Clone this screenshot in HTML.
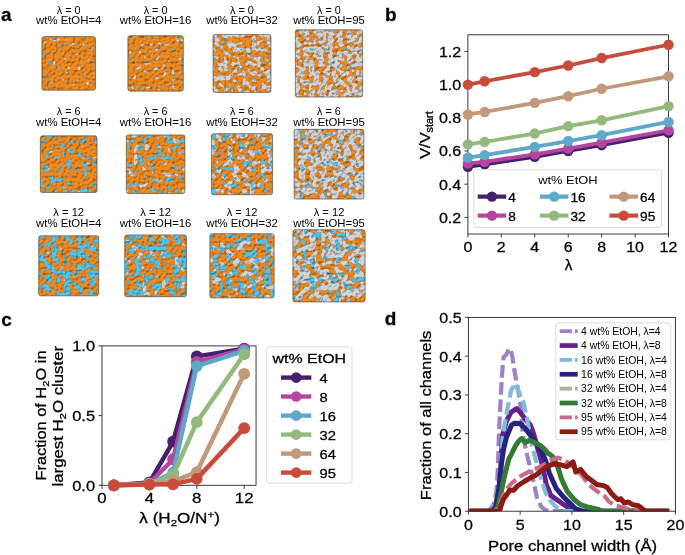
<!DOCTYPE html><html><head><meta charset="utf-8"><style>
html,body{margin:0;padding:0;background:#fff;width:685px;height:555px;overflow:hidden}
svg{display:block;font-family:"Liberation Sans",sans-serif;will-change:transform} text{stroke:#000;stroke-width:0.28px;paint-order:stroke} text.t{stroke:none}
</style></head><body>
<svg width="685" height="555" viewBox="0 0 685 555">
<rect width="685" height="555" fill="#fff"/>
<rect x="467.90" y="34.80" width="200.64" height="199.20" fill="none" stroke="#262626" stroke-width="0.9"/>
<line x1="464.40" y1="217.40" x2="467.90" y2="217.40" stroke="#262626" stroke-width="0.9"/>
<text x="461.20" y="222.85" font-size="15.2" text-anchor="end" textLength="22.30" lengthAdjust="spacingAndGlyphs">0.2</text>
<line x1="464.40" y1="184.20" x2="467.90" y2="184.20" stroke="#262626" stroke-width="0.9"/>
<text x="461.20" y="189.65" font-size="15.2" text-anchor="end" textLength="22.30" lengthAdjust="spacingAndGlyphs">0.4</text>
<line x1="464.40" y1="151.00" x2="467.90" y2="151.00" stroke="#262626" stroke-width="0.9"/>
<text x="461.20" y="156.45" font-size="15.2" text-anchor="end" textLength="22.30" lengthAdjust="spacingAndGlyphs">0.6</text>
<line x1="464.40" y1="117.80" x2="467.90" y2="117.80" stroke="#262626" stroke-width="0.9"/>
<text x="461.20" y="123.25" font-size="15.2" text-anchor="end" textLength="22.30" lengthAdjust="spacingAndGlyphs">0.8</text>
<line x1="464.40" y1="84.60" x2="467.90" y2="84.60" stroke="#262626" stroke-width="0.9"/>
<text x="461.20" y="90.05" font-size="15.2" text-anchor="end" textLength="22.30" lengthAdjust="spacingAndGlyphs">1.0</text>
<line x1="464.40" y1="51.40" x2="467.90" y2="51.40" stroke="#262626" stroke-width="0.9"/>
<text x="461.20" y="56.85" font-size="15.2" text-anchor="end" textLength="22.30" lengthAdjust="spacingAndGlyphs">1.2</text>
<line x1="467.90" y1="234.00" x2="467.90" y2="237.50" stroke="#262626" stroke-width="0.9"/>
<text x="467.90" y="251.90" font-size="15.2" text-anchor="middle" textLength="8.90" lengthAdjust="spacingAndGlyphs">0</text>
<line x1="501.34" y1="234.00" x2="501.34" y2="237.50" stroke="#262626" stroke-width="0.9"/>
<text x="501.34" y="251.90" font-size="15.2" text-anchor="middle" textLength="8.90" lengthAdjust="spacingAndGlyphs">2</text>
<line x1="534.78" y1="234.00" x2="534.78" y2="237.50" stroke="#262626" stroke-width="0.9"/>
<text x="534.78" y="251.90" font-size="15.2" text-anchor="middle" textLength="8.90" lengthAdjust="spacingAndGlyphs">4</text>
<line x1="568.22" y1="234.00" x2="568.22" y2="237.50" stroke="#262626" stroke-width="0.9"/>
<text x="568.22" y="251.90" font-size="15.2" text-anchor="middle" textLength="8.90" lengthAdjust="spacingAndGlyphs">6</text>
<line x1="601.66" y1="234.00" x2="601.66" y2="237.50" stroke="#262626" stroke-width="0.9"/>
<text x="601.66" y="251.90" font-size="15.2" text-anchor="middle" textLength="8.90" lengthAdjust="spacingAndGlyphs">8</text>
<line x1="635.10" y1="234.00" x2="635.10" y2="237.50" stroke="#262626" stroke-width="0.9"/>
<text x="635.10" y="251.90" font-size="15.2" text-anchor="middle" textLength="17.80" lengthAdjust="spacingAndGlyphs">10</text>
<line x1="668.54" y1="234.00" x2="668.54" y2="237.50" stroke="#262626" stroke-width="0.9"/>
<text x="668.54" y="251.90" font-size="15.2" text-anchor="middle" textLength="17.80" lengthAdjust="spacingAndGlyphs">12</text>
<polyline points="467.90,166.77 484.62,164.28 534.78,156.81 568.22,151.00 601.66,145.19 668.54,132.74" fill="none" stroke="#45206f" stroke-width="3.8" stroke-linejoin="round" stroke-linecap="butt"/>
<circle cx="467.90" cy="166.77" r="5.2" fill="#45206f"/>
<circle cx="484.62" cy="164.28" r="5.2" fill="#45206f"/>
<circle cx="534.78" cy="156.81" r="5.2" fill="#45206f"/>
<circle cx="568.22" cy="151.00" r="5.2" fill="#45206f"/>
<circle cx="601.66" cy="145.19" r="5.2" fill="#45206f"/>
<circle cx="668.54" cy="132.74" r="5.2" fill="#45206f"/>
<polyline points="467.90,163.45 484.62,161.79 534.78,154.32 568.22,148.51 601.66,142.70 668.54,130.25" fill="none" stroke="#b6459f" stroke-width="3.8" stroke-linejoin="round" stroke-linecap="butt"/>
<circle cx="467.90" cy="163.45" r="5.2" fill="#b6459f"/>
<circle cx="484.62" cy="161.79" r="5.2" fill="#b6459f"/>
<circle cx="534.78" cy="154.32" r="5.2" fill="#b6459f"/>
<circle cx="568.22" cy="148.51" r="5.2" fill="#b6459f"/>
<circle cx="601.66" cy="142.70" r="5.2" fill="#b6459f"/>
<circle cx="668.54" cy="130.25" r="5.2" fill="#b6459f"/>
<polyline points="467.90,157.64 484.62,155.15 534.78,146.85 568.22,141.04 601.66,135.23 668.54,121.95" fill="none" stroke="#5ea8c9" stroke-width="3.8" stroke-linejoin="round" stroke-linecap="butt"/>
<circle cx="467.90" cy="157.64" r="5.2" fill="#5ea8c9"/>
<circle cx="484.62" cy="155.15" r="5.2" fill="#5ea8c9"/>
<circle cx="534.78" cy="146.85" r="5.2" fill="#5ea8c9"/>
<circle cx="568.22" cy="141.04" r="5.2" fill="#5ea8c9"/>
<circle cx="601.66" cy="135.23" r="5.2" fill="#5ea8c9"/>
<circle cx="668.54" cy="121.95" r="5.2" fill="#5ea8c9"/>
<polyline points="467.90,144.36 484.62,141.87 534.78,133.57 568.22,126.10 601.66,120.29 668.54,106.18" fill="none" stroke="#94b97c" stroke-width="3.8" stroke-linejoin="round" stroke-linecap="butt"/>
<circle cx="467.90" cy="144.36" r="5.2" fill="#94b97c"/>
<circle cx="484.62" cy="141.87" r="5.2" fill="#94b97c"/>
<circle cx="534.78" cy="133.57" r="5.2" fill="#94b97c"/>
<circle cx="568.22" cy="126.10" r="5.2" fill="#94b97c"/>
<circle cx="601.66" cy="120.29" r="5.2" fill="#94b97c"/>
<circle cx="668.54" cy="106.18" r="5.2" fill="#94b97c"/>
<polyline points="467.90,114.48 484.62,111.99 534.78,102.86 568.22,96.22 601.66,88.75 668.54,76.30" fill="none" stroke="#c1987a" stroke-width="3.8" stroke-linejoin="round" stroke-linecap="butt"/>
<circle cx="467.90" cy="114.48" r="5.2" fill="#c1987a"/>
<circle cx="484.62" cy="111.99" r="5.2" fill="#c1987a"/>
<circle cx="534.78" cy="102.86" r="5.2" fill="#c1987a"/>
<circle cx="568.22" cy="96.22" r="5.2" fill="#c1987a"/>
<circle cx="601.66" cy="88.75" r="5.2" fill="#c1987a"/>
<circle cx="668.54" cy="76.30" r="5.2" fill="#c1987a"/>
<polyline points="467.90,84.60 484.62,81.28 534.78,72.15 568.22,65.51 601.66,58.04 668.54,44.76" fill="none" stroke="#c84b3c" stroke-width="3.8" stroke-linejoin="round" stroke-linecap="butt"/>
<circle cx="467.90" cy="84.60" r="5.2" fill="#c84b3c"/>
<circle cx="484.62" cy="81.28" r="5.2" fill="#c84b3c"/>
<circle cx="534.78" cy="72.15" r="5.2" fill="#c84b3c"/>
<circle cx="568.22" cy="65.51" r="5.2" fill="#c84b3c"/>
<circle cx="601.66" cy="58.04" r="5.2" fill="#c84b3c"/>
<circle cx="668.54" cy="44.76" r="5.2" fill="#c84b3c"/>
<rect x="473.9" y="169.6" width="187.7" height="58" rx="2.5" fill="#fff" fill-opacity="0.8" stroke="#d9d9d9" stroke-width="0.9"/>
<text class="t" x="567.90" y="183.80" font-size="10.6" text-anchor="middle" textLength="59.50" lengthAdjust="spacingAndGlyphs">wt% EtOH</text>
<line x1="477.70" y1="196.60" x2="506.20" y2="196.60" stroke="#45206f" stroke-width="4.2"/>
<circle cx="491.95" cy="196.60" r="5.2" fill="#45206f"/>
<text x="508.30" y="201.60" font-size="12.4" textLength="7.60" lengthAdjust="spacingAndGlyphs">4</text>
<line x1="539.90" y1="196.60" x2="568.40" y2="196.60" stroke="#5ea8c9" stroke-width="4.2"/>
<circle cx="554.15" cy="196.60" r="5.2" fill="#5ea8c9"/>
<text x="570.50" y="201.60" font-size="12.4" textLength="15.20" lengthAdjust="spacingAndGlyphs">16</text>
<line x1="609.50" y1="196.60" x2="638.00" y2="196.60" stroke="#c1987a" stroke-width="4.2"/>
<circle cx="623.75" cy="196.60" r="5.2" fill="#c1987a"/>
<text x="640.10" y="201.60" font-size="12.4" textLength="15.20" lengthAdjust="spacingAndGlyphs">64</text>
<line x1="477.70" y1="215.60" x2="506.20" y2="215.60" stroke="#b6459f" stroke-width="4.2"/>
<circle cx="491.95" cy="215.60" r="5.2" fill="#b6459f"/>
<text x="508.30" y="220.60" font-size="12.4" textLength="7.60" lengthAdjust="spacingAndGlyphs">8</text>
<line x1="539.90" y1="215.60" x2="568.40" y2="215.60" stroke="#94b97c" stroke-width="4.2"/>
<circle cx="554.15" cy="215.60" r="5.2" fill="#94b97c"/>
<text x="570.50" y="220.60" font-size="12.4" textLength="15.20" lengthAdjust="spacingAndGlyphs">32</text>
<line x1="609.50" y1="215.60" x2="638.00" y2="215.60" stroke="#c84b3c" stroke-width="4.2"/>
<circle cx="623.75" cy="215.60" r="5.2" fill="#c84b3c"/>
<text x="640.10" y="220.60" font-size="12.4" textLength="15.20" lengthAdjust="spacingAndGlyphs">95</text>
<text x="568.50" y="269.70" font-size="15.2" text-anchor="middle">λ</text>
<text transform="translate(429.6,135.1) rotate(-90)" font-size="15.2" text-anchor="middle" textLength="47.5" lengthAdjust="spacingAndGlyphs">V/V<tspan font-size="10" dy="3.2">start</tspan></text>
<text x="385.00" y="20.70" font-size="19" font-weight="bold">b</text>
<defs><filter id="q00" x="0" y="0" width="1" height="1" color-interpolation-filters="sRGB"><feFlood flood-color="#ee8a22" result="base"/><feTurbulence type="fractalNoise" baseFrequency="0.21" numOctaves="1" seed="11" result="n1"/><feColorMatrix in="n1" type="matrix" result="ge" values="0 0 0 0 0.55 0 0 0 0 0.56 0 0 0 0 0.58 25 0 0 0 -16.667"/><feColorMatrix in="n1" type="matrix" result="g" values="0 0 0 0 0.82 0 0 0 0 0.83 0 0 0 0 0.85 25 0 0 0 -17.042"/><feTurbulence type="fractalNoise" baseFrequency="0.21" numOctaves="1" seed="61" result="n2"/><feColorMatrix in="n2" type="matrix" result="be" values="0 0 0 0 0.25 0 0 0 0 0.55 0 0 0 0 0.68 25 0 0 0 -17.565"/><feColorMatrix in="n2" type="matrix" result="b" values="0 0 0 0 0.33 0 0 0 0 0.77 0 0 0 0 0.91 25 0 0 0 -17.940"/><feMerge result="col"><feMergeNode in="base"/><feMergeNode in="ge"/><feMergeNode in="g"/><feMergeNode in="be"/><feMergeNode in="b"/></feMerge><feTurbulence type="fractalNoise" baseFrequency="0.35" numOctaves="1" seed="16" result="n3"/><feColorMatrix in="n3" type="matrix" result="h" values="0 0 0 0 0 0 0 0 0 0 0 0 0 0 0 1 0 0 0 0"/><feDiffuseLighting in="h" surfaceScale="1.5" diffuseConstant="1.15" lighting-color="#fff" result="L"><feDistantLight azimuth="235" elevation="60"/></feDiffuseLighting><feBlend in="col" in2="L" mode="multiply"/></filter><clipPath id="k00"><rect x="41.90" y="36.60" width="53.59" height="53.59" rx="2.2"/></clipPath><filter id="q01" x="0" y="0" width="1" height="1" color-interpolation-filters="sRGB"><feFlood flood-color="#ee8a22" result="base"/><feTurbulence type="fractalNoise" baseFrequency="0.21" numOctaves="1" seed="18" result="n1"/><feColorMatrix in="n1" type="matrix" result="ge" values="0 0 0 0 0.55 0 0 0 0 0.56 0 0 0 0 0.58 25 0 0 0 -15.760"/><feColorMatrix in="n1" type="matrix" result="g" values="0 0 0 0 0.82 0 0 0 0 0.83 0 0 0 0 0.85 25 0 0 0 -16.135"/><feTurbulence type="fractalNoise" baseFrequency="0.21" numOctaves="1" seed="68" result="n2"/><feColorMatrix in="n2" type="matrix" result="be" values="0 0 0 0 0.25 0 0 0 0 0.55 0 0 0 0 0.68 25 0 0 0 -17.272"/><feColorMatrix in="n2" type="matrix" result="b" values="0 0 0 0 0.33 0 0 0 0 0.77 0 0 0 0 0.91 25 0 0 0 -17.647"/><feMerge result="col"><feMergeNode in="base"/><feMergeNode in="ge"/><feMergeNode in="g"/><feMergeNode in="be"/><feMergeNode in="b"/></feMerge><feTurbulence type="fractalNoise" baseFrequency="0.35" numOctaves="1" seed="23" result="n3"/><feColorMatrix in="n3" type="matrix" result="h" values="0 0 0 0 0 0 0 0 0 0 0 0 0 0 0 1 0 0 0 0"/><feDiffuseLighting in="h" surfaceScale="1.5" diffuseConstant="1.15" lighting-color="#fff" result="L"><feDistantLight azimuth="235" elevation="60"/></feDiffuseLighting><feBlend in="col" in2="L" mode="multiply"/></filter><clipPath id="k01"><rect x="127.86" y="35.66" width="55.47" height="55.47" rx="2.2"/></clipPath><filter id="q02" x="0" y="0" width="1" height="1" color-interpolation-filters="sRGB"><feFlood flood-color="#ee8a22" result="base"/><feTurbulence type="fractalNoise" baseFrequency="0.21" numOctaves="1" seed="25" result="n1"/><feColorMatrix in="n1" type="matrix" result="ge" values="0 0 0 0 0.55 0 0 0 0 0.56 0 0 0 0 0.58 25 0 0 0 -12.715"/><feColorMatrix in="n1" type="matrix" result="g" values="0 0 0 0 0.82 0 0 0 0 0.83 0 0 0 0 0.85 25 0 0 0 -13.090"/><feTurbulence type="fractalNoise" baseFrequency="0.21" numOctaves="1" seed="75" result="n2"/><feColorMatrix in="n2" type="matrix" result="be" values="0 0 0 0 0.25 0 0 0 0 0.55 0 0 0 0 0.68 25 0 0 0 -17.565"/><feColorMatrix in="n2" type="matrix" result="b" values="0 0 0 0 0.33 0 0 0 0 0.77 0 0 0 0 0.91 25 0 0 0 -17.940"/><feMerge result="col"><feMergeNode in="base"/><feMergeNode in="ge"/><feMergeNode in="g"/><feMergeNode in="be"/><feMergeNode in="b"/></feMerge><feTurbulence type="fractalNoise" baseFrequency="0.35" numOctaves="1" seed="30" result="n3"/><feColorMatrix in="n3" type="matrix" result="h" values="0 0 0 0 0 0 0 0 0 0 0 0 0 0 0 1 0 0 0 0"/><feDiffuseLighting in="h" surfaceScale="1.5" diffuseConstant="1.15" lighting-color="#fff" result="L"><feDistantLight azimuth="235" elevation="60"/></feDiffuseLighting><feBlend in="col" in2="L" mode="multiply"/></filter><clipPath id="k02"><rect x="213.00" y="34.40" width="58.00" height="58.00" rx="2.2"/></clipPath><filter id="q03" x="0" y="0" width="1" height="1" color-interpolation-filters="sRGB"><feFlood flood-color="#ee8a22" result="base"/><feTurbulence type="fractalNoise" baseFrequency="0.21" numOctaves="1" seed="32" result="n1"/><feColorMatrix in="n1" type="matrix" result="ge" values="0 0 0 0 0.55 0 0 0 0 0.56 0 0 0 0 0.58 25 0 0 0 -11.286"/><feColorMatrix in="n1" type="matrix" result="g" values="0 0 0 0 0.82 0 0 0 0 0.83 0 0 0 0 0.85 25 0 0 0 -11.661"/><feTurbulence type="fractalNoise" baseFrequency="0.21" numOctaves="1" seed="82" result="n2"/><feColorMatrix in="n2" type="matrix" result="be" values="0 0 0 0 0.25 0 0 0 0 0.55 0 0 0 0 0.68 25 0 0 0 -17.918"/><feColorMatrix in="n2" type="matrix" result="b" values="0 0 0 0 0.33 0 0 0 0 0.77 0 0 0 0 0.91 25 0 0 0 -18.293"/><feMerge result="col"><feMergeNode in="base"/><feMergeNode in="ge"/><feMergeNode in="g"/><feMergeNode in="be"/><feMergeNode in="b"/></feMerge><feTurbulence type="fractalNoise" baseFrequency="0.35" numOctaves="1" seed="37" result="n3"/><feColorMatrix in="n3" type="matrix" result="h" values="0 0 0 0 0 0 0 0 0 0 0 0 0 0 0 1 0 0 0 0"/><feDiffuseLighting in="h" surfaceScale="1.5" diffuseConstant="1.15" lighting-color="#fff" result="L"><feDistantLight azimuth="235" elevation="60"/></feDiffuseLighting><feBlend in="col" in2="L" mode="multiply"/></filter><clipPath id="k03"><rect x="295.35" y="29.75" width="67.30" height="67.30" rx="2.2"/></clipPath><filter id="q10" x="0" y="0" width="1" height="1" color-interpolation-filters="sRGB"><feFlood flood-color="#ee8a22" result="base"/><feTurbulence type="fractalNoise" baseFrequency="0.18" numOctaves="1" seed="39" result="n1"/><feColorMatrix in="n1" type="matrix" result="ge" values="0 0 0 0 0.55 0 0 0 0 0.56 0 0 0 0 0.58 25 0 0 0 -17.052"/><feColorMatrix in="n1" type="matrix" result="g" values="0 0 0 0 0.82 0 0 0 0 0.83 0 0 0 0 0.85 25 0 0 0 -17.427"/><feTurbulence type="fractalNoise" baseFrequency="0.18" numOctaves="1" seed="89" result="n2"/><feColorMatrix in="n2" type="matrix" result="be" values="0 0 0 0 0.25 0 0 0 0 0.55 0 0 0 0 0.68 25 0 0 0 -14.430"/><feColorMatrix in="n2" type="matrix" result="b" values="0 0 0 0 0.33 0 0 0 0 0.77 0 0 0 0 0.91 25 0 0 0 -14.805"/><feMerge result="col"><feMergeNode in="base"/><feMergeNode in="ge"/><feMergeNode in="g"/><feMergeNode in="be"/><feMergeNode in="b"/></feMerge><feTurbulence type="fractalNoise" baseFrequency="0.35" numOctaves="1" seed="44" result="n3"/><feColorMatrix in="n3" type="matrix" result="h" values="0 0 0 0 0 0 0 0 0 0 0 0 0 0 0 1 0 0 0 0"/><feDiffuseLighting in="h" surfaceScale="1.5" diffuseConstant="1.15" lighting-color="#fff" result="L"><feDistantLight azimuth="235" elevation="60"/></feDiffuseLighting><feBlend in="col" in2="L" mode="multiply"/></filter><clipPath id="k10"><rect x="40.32" y="135.82" width="56.76" height="56.76" rx="2.2"/></clipPath><filter id="q11" x="0" y="0" width="1" height="1" color-interpolation-filters="sRGB"><feFlood flood-color="#ee8a22" result="base"/><feTurbulence type="fractalNoise" baseFrequency="0.18" numOctaves="1" seed="46" result="n1"/><feColorMatrix in="n1" type="matrix" result="ge" values="0 0 0 0 0.55 0 0 0 0 0.56 0 0 0 0 0.58 25 0 0 0 -15.166"/><feColorMatrix in="n1" type="matrix" result="g" values="0 0 0 0 0.82 0 0 0 0 0.83 0 0 0 0 0.85 25 0 0 0 -15.541"/><feTurbulence type="fractalNoise" baseFrequency="0.18" numOctaves="1" seed="96" result="n2"/><feColorMatrix in="n2" type="matrix" result="be" values="0 0 0 0 0.25 0 0 0 0 0.55 0 0 0 0 0.68 25 0 0 0 -14.704"/><feColorMatrix in="n2" type="matrix" result="b" values="0 0 0 0 0.33 0 0 0 0 0.77 0 0 0 0 0.91 25 0 0 0 -15.079"/><feMerge result="col"><feMergeNode in="base"/><feMergeNode in="ge"/><feMergeNode in="g"/><feMergeNode in="be"/><feMergeNode in="b"/></feMerge><feTurbulence type="fractalNoise" baseFrequency="0.35" numOctaves="1" seed="51" result="n3"/><feColorMatrix in="n3" type="matrix" result="h" values="0 0 0 0 0 0 0 0 0 0 0 0 0 0 0 1 0 0 0 0"/><feDiffuseLighting in="h" surfaceScale="1.5" diffuseConstant="1.15" lighting-color="#fff" result="L"><feDistantLight azimuth="235" elevation="60"/></feDiffuseLighting><feBlend in="col" in2="L" mode="multiply"/></filter><clipPath id="k11"><rect x="126.30" y="134.90" width="58.60" height="58.60" rx="2.2"/></clipPath><filter id="q12" x="0" y="0" width="1" height="1" color-interpolation-filters="sRGB"><feFlood flood-color="#ee8a22" result="base"/><feTurbulence type="fractalNoise" baseFrequency="0.18" numOctaves="1" seed="53" result="n1"/><feColorMatrix in="n1" type="matrix" result="ge" values="0 0 0 0 0.55 0 0 0 0 0.56 0 0 0 0 0.58 25 0 0 0 -13.132"/><feColorMatrix in="n1" type="matrix" result="g" values="0 0 0 0 0.82 0 0 0 0 0.83 0 0 0 0 0.85 25 0 0 0 -13.507"/><feTurbulence type="fractalNoise" baseFrequency="0.18" numOctaves="1" seed="103" result="n2"/><feColorMatrix in="n2" type="matrix" result="be" values="0 0 0 0 0.25 0 0 0 0 0.55 0 0 0 0 0.68 25 0 0 0 -15.116"/><feColorMatrix in="n2" type="matrix" result="b" values="0 0 0 0 0.33 0 0 0 0 0.77 0 0 0 0 0.91 25 0 0 0 -15.491"/><feMerge result="col"><feMergeNode in="base"/><feMergeNode in="ge"/><feMergeNode in="g"/><feMergeNode in="be"/><feMergeNode in="b"/></feMerge><feTurbulence type="fractalNoise" baseFrequency="0.35" numOctaves="1" seed="58" result="n3"/><feColorMatrix in="n3" type="matrix" result="h" values="0 0 0 0 0 0 0 0 0 0 0 0 0 0 0 1 0 0 0 0"/><feDiffuseLighting in="h" surfaceScale="1.5" diffuseConstant="1.15" lighting-color="#fff" result="L"><feDistantLight azimuth="235" elevation="60"/></feDiffuseLighting><feBlend in="col" in2="L" mode="multiply"/></filter><clipPath id="k12"><rect x="211.43" y="133.63" width="61.15" height="61.15" rx="2.2"/></clipPath><filter id="q13" x="0" y="0" width="1" height="1" color-interpolation-filters="sRGB"><feFlood flood-color="#ee8a22" result="base"/><feTurbulence type="fractalNoise" baseFrequency="0.18" numOctaves="1" seed="60" result="n1"/><feColorMatrix in="n1" type="matrix" result="ge" values="0 0 0 0 0.55 0 0 0 0 0.56 0 0 0 0 0.58 25 0 0 0 -11.130"/><feColorMatrix in="n1" type="matrix" result="g" values="0 0 0 0 0.82 0 0 0 0 0.83 0 0 0 0 0.85 25 0 0 0 -11.505"/><feTurbulence type="fractalNoise" baseFrequency="0.18" numOctaves="1" seed="110" result="n2"/><feColorMatrix in="n2" type="matrix" result="be" values="0 0 0 0 0.25 0 0 0 0 0.55 0 0 0 0 0.68 25 0 0 0 -16.155"/><feColorMatrix in="n2" type="matrix" result="b" values="0 0 0 0 0.33 0 0 0 0 0.77 0 0 0 0 0.91 25 0 0 0 -16.530"/><feMerge result="col"><feMergeNode in="base"/><feMergeNode in="ge"/><feMergeNode in="g"/><feMergeNode in="be"/><feMergeNode in="b"/></feMerge><feTurbulence type="fractalNoise" baseFrequency="0.35" numOctaves="1" seed="65" result="n3"/><feColorMatrix in="n3" type="matrix" result="h" values="0 0 0 0 0 0 0 0 0 0 0 0 0 0 0 1 0 0 0 0"/><feDiffuseLighting in="h" surfaceScale="1.5" diffuseConstant="1.15" lighting-color="#fff" result="L"><feDistantLight azimuth="235" elevation="60"/></feDiffuseLighting><feBlend in="col" in2="L" mode="multiply"/></filter><clipPath id="k13"><rect x="294.11" y="129.31" width="69.79" height="69.79" rx="2.2"/></clipPath><filter id="q20" x="0" y="0" width="1" height="1" color-interpolation-filters="sRGB"><feFlood flood-color="#ee8a22" result="base"/><feTurbulence type="fractalNoise" baseFrequency="0.155" numOctaves="1" seed="67" result="n1"/><feColorMatrix in="n1" type="matrix" result="ge" values="0 0 0 0 0.55 0 0 0 0 0.56 0 0 0 0 0.58 25 0 0 0 -17.140"/><feColorMatrix in="n1" type="matrix" result="g" values="0 0 0 0 0.82 0 0 0 0 0.83 0 0 0 0 0.85 25 0 0 0 -17.515"/><feTurbulence type="fractalNoise" baseFrequency="0.155" numOctaves="1" seed="117" result="n2"/><feColorMatrix in="n2" type="matrix" result="be" values="0 0 0 0 0.25 0 0 0 0 0.55 0 0 0 0 0.68 25 0 0 0 -12.645"/><feColorMatrix in="n2" type="matrix" result="b" values="0 0 0 0 0.33 0 0 0 0 0.77 0 0 0 0 0.91 25 0 0 0 -13.020"/><feMerge result="col"><feMergeNode in="base"/><feMergeNode in="ge"/><feMergeNode in="g"/><feMergeNode in="be"/><feMergeNode in="b"/></feMerge><feTurbulence type="fractalNoise" baseFrequency="0.35" numOctaves="1" seed="72" result="n3"/><feColorMatrix in="n3" type="matrix" result="h" values="0 0 0 0 0 0 0 0 0 0 0 0 0 0 0 1 0 0 0 0"/><feDiffuseLighting in="h" surfaceScale="1.5" diffuseConstant="1.15" lighting-color="#fff" result="L"><feDistantLight azimuth="235" elevation="60"/></feDiffuseLighting><feBlend in="col" in2="L" mode="multiply"/></filter><clipPath id="k20"><rect x="38.68" y="235.78" width="60.04" height="60.04" rx="2.2"/></clipPath><filter id="q21" x="0" y="0" width="1" height="1" color-interpolation-filters="sRGB"><feFlood flood-color="#ee8a22" result="base"/><feTurbulence type="fractalNoise" baseFrequency="0.155" numOctaves="1" seed="74" result="n1"/><feColorMatrix in="n1" type="matrix" result="ge" values="0 0 0 0 0.55 0 0 0 0 0.56 0 0 0 0 0.58 25 0 0 0 -14.961"/><feColorMatrix in="n1" type="matrix" result="g" values="0 0 0 0 0.82 0 0 0 0 0.83 0 0 0 0 0.85 25 0 0 0 -15.336"/><feTurbulence type="fractalNoise" baseFrequency="0.155" numOctaves="1" seed="124" result="n2"/><feColorMatrix in="n2" type="matrix" result="be" values="0 0 0 0 0.25 0 0 0 0 0.55 0 0 0 0 0.68 25 0 0 0 -12.919"/><feColorMatrix in="n2" type="matrix" result="b" values="0 0 0 0 0.33 0 0 0 0 0.77 0 0 0 0 0.91 25 0 0 0 -13.294"/><feMerge result="col"><feMergeNode in="base"/><feMergeNode in="ge"/><feMergeNode in="g"/><feMergeNode in="be"/><feMergeNode in="b"/></feMerge><feTurbulence type="fractalNoise" baseFrequency="0.35" numOctaves="1" seed="79" result="n3"/><feColorMatrix in="n3" type="matrix" result="h" values="0 0 0 0 0 0 0 0 0 0 0 0 0 0 0 1 0 0 0 0"/><feDiffuseLighting in="h" surfaceScale="1.5" diffuseConstant="1.15" lighting-color="#fff" result="L"><feDistantLight azimuth="235" elevation="60"/></feDiffuseLighting><feBlend in="col" in2="L" mode="multiply"/></filter><clipPath id="k21"><rect x="124.69" y="234.89" width="61.82" height="61.82" rx="2.2"/></clipPath><filter id="q22" x="0" y="0" width="1" height="1" color-interpolation-filters="sRGB"><feFlood flood-color="#ee8a22" result="base"/><feTurbulence type="fractalNoise" baseFrequency="0.155" numOctaves="1" seed="81" result="n1"/><feColorMatrix in="n1" type="matrix" result="ge" values="0 0 0 0 0.55 0 0 0 0 0.56 0 0 0 0 0.58 25 0 0 0 -13.435"/><feColorMatrix in="n1" type="matrix" result="g" values="0 0 0 0 0.82 0 0 0 0 0.83 0 0 0 0 0.85 25 0 0 0 -13.810"/><feTurbulence type="fractalNoise" baseFrequency="0.155" numOctaves="1" seed="131" result="n2"/><feColorMatrix in="n2" type="matrix" result="be" values="0 0 0 0 0.25 0 0 0 0 0.55 0 0 0 0 0.68 25 0 0 0 -13.547"/><feColorMatrix in="n2" type="matrix" result="b" values="0 0 0 0 0.33 0 0 0 0 0.77 0 0 0 0 0.91 25 0 0 0 -13.922"/><feMerge result="col"><feMergeNode in="base"/><feMergeNode in="ge"/><feMergeNode in="g"/><feMergeNode in="be"/><feMergeNode in="b"/></feMerge><feTurbulence type="fractalNoise" baseFrequency="0.35" numOctaves="1" seed="86" result="n3"/><feColorMatrix in="n3" type="matrix" result="h" values="0 0 0 0 0 0 0 0 0 0 0 0 0 0 0 1 0 0 0 0"/><feDiffuseLighting in="h" surfaceScale="1.5" diffuseConstant="1.15" lighting-color="#fff" result="L"><feDistantLight azimuth="235" elevation="60"/></feDiffuseLighting><feBlend in="col" in2="L" mode="multiply"/></filter><clipPath id="k22"><rect x="209.88" y="233.68" width="64.25" height="64.25" rx="2.2"/></clipPath><filter id="q23" x="0" y="0" width="1" height="1" color-interpolation-filters="sRGB"><feFlood flood-color="#ee8a22" result="base"/><feTurbulence type="fractalNoise" baseFrequency="0.155" numOctaves="1" seed="88" result="n1"/><feColorMatrix in="n1" type="matrix" result="ge" values="0 0 0 0 0.55 0 0 0 0 0.56 0 0 0 0 0.58 25 0 0 0 -11.421"/><feColorMatrix in="n1" type="matrix" result="g" values="0 0 0 0 0.82 0 0 0 0 0.83 0 0 0 0 0.85 25 0 0 0 -11.796"/><feTurbulence type="fractalNoise" baseFrequency="0.155" numOctaves="1" seed="138" result="n2"/><feColorMatrix in="n2" type="matrix" result="be" values="0 0 0 0 0.25 0 0 0 0 0.55 0 0 0 0 0.68 25 0 0 0 -14.704"/><feColorMatrix in="n2" type="matrix" result="b" values="0 0 0 0 0.33 0 0 0 0 0.77 0 0 0 0 0.91 25 0 0 0 -15.079"/><feMerge result="col"><feMergeNode in="base"/><feMergeNode in="ge"/><feMergeNode in="g"/><feMergeNode in="be"/><feMergeNode in="b"/></feMerge><feTurbulence type="fractalNoise" baseFrequency="0.35" numOctaves="1" seed="93" result="n3"/><feColorMatrix in="n3" type="matrix" result="h" values="0 0 0 0 0 0 0 0 0 0 0 0 0 0 0 1 0 0 0 0"/><feDiffuseLighting in="h" surfaceScale="1.5" diffuseConstant="1.15" lighting-color="#fff" result="L"><feDistantLight azimuth="235" elevation="60"/></feDiffuseLighting><feBlend in="col" in2="L" mode="multiply"/></filter><clipPath id="k23"><rect x="292.85" y="229.65" width="72.30" height="72.30" rx="2.2"/></clipPath></defs>
<rect x="41.90" y="36.60" width="53.59" height="53.59" filter="url(#q00)" clip-path="url(#k00)"/>
<rect x="41.90" y="36.60" width="53.59" height="53.59" rx="2.2" fill="none" stroke="#333" stroke-opacity="0.6" stroke-width="0.9"/>
<text class="t" x="68.70" y="13.60" font-size="10.2" text-anchor="middle" textLength="23.8" lengthAdjust="spacingAndGlyphs">λ = 0</text>
<text class="t" x="68.70" y="24.40" font-size="10.2" text-anchor="middle" textLength="65.3" lengthAdjust="spacingAndGlyphs">wt% EtOH=4</text>
<rect x="127.86" y="35.66" width="55.47" height="55.47" filter="url(#q01)" clip-path="url(#k01)"/>
<rect x="127.86" y="35.66" width="55.47" height="55.47" rx="2.2" fill="none" stroke="#333" stroke-opacity="0.6" stroke-width="0.9"/>
<text class="t" x="155.60" y="13.60" font-size="10.2" text-anchor="middle" textLength="23.8" lengthAdjust="spacingAndGlyphs">λ = 0</text>
<text class="t" x="155.60" y="24.40" font-size="10.2" text-anchor="middle" textLength="71.6" lengthAdjust="spacingAndGlyphs">wt% EtOH=16</text>
<rect x="213.00" y="34.40" width="58.00" height="58.00" filter="url(#q02)" clip-path="url(#k02)"/>
<rect x="213.00" y="34.40" width="58.00" height="58.00" rx="2.2" fill="none" stroke="#333" stroke-opacity="0.6" stroke-width="0.9"/>
<text class="t" x="242.00" y="13.60" font-size="10.2" text-anchor="middle" textLength="23.8" lengthAdjust="spacingAndGlyphs">λ = 0</text>
<text class="t" x="242.00" y="24.40" font-size="10.2" text-anchor="middle" textLength="71.6" lengthAdjust="spacingAndGlyphs">wt% EtOH=32</text>
<rect x="295.35" y="29.75" width="67.30" height="67.30" filter="url(#q03)" clip-path="url(#k03)"/>
<rect x="295.35" y="29.75" width="67.30" height="67.30" rx="2.2" fill="none" stroke="#333" stroke-opacity="0.6" stroke-width="0.9"/>
<text class="t" x="329.00" y="13.60" font-size="10.2" text-anchor="middle" textLength="23.8" lengthAdjust="spacingAndGlyphs">λ = 0</text>
<text class="t" x="329.00" y="24.40" font-size="10.2" text-anchor="middle" textLength="71.6" lengthAdjust="spacingAndGlyphs">wt% EtOH=95</text>
<rect x="40.32" y="135.82" width="56.76" height="56.76" filter="url(#q10)" clip-path="url(#k10)"/>
<rect x="40.32" y="135.82" width="56.76" height="56.76" rx="2.2" fill="none" stroke="#333" stroke-opacity="0.6" stroke-width="0.9"/>
<text class="t" x="68.70" y="114.80" font-size="10.2" text-anchor="middle" textLength="23.8" lengthAdjust="spacingAndGlyphs">λ = 6</text>
<text class="t" x="68.70" y="125.60" font-size="10.2" text-anchor="middle" textLength="65.3" lengthAdjust="spacingAndGlyphs">wt% EtOH=4</text>
<rect x="126.30" y="134.90" width="58.60" height="58.60" filter="url(#q11)" clip-path="url(#k11)"/>
<rect x="126.30" y="134.90" width="58.60" height="58.60" rx="2.2" fill="none" stroke="#333" stroke-opacity="0.6" stroke-width="0.9"/>
<text class="t" x="155.60" y="114.80" font-size="10.2" text-anchor="middle" textLength="23.8" lengthAdjust="spacingAndGlyphs">λ = 6</text>
<text class="t" x="155.60" y="125.60" font-size="10.2" text-anchor="middle" textLength="71.6" lengthAdjust="spacingAndGlyphs">wt% EtOH=16</text>
<rect x="211.43" y="133.63" width="61.15" height="61.15" filter="url(#q12)" clip-path="url(#k12)"/>
<rect x="211.43" y="133.63" width="61.15" height="61.15" rx="2.2" fill="none" stroke="#333" stroke-opacity="0.6" stroke-width="0.9"/>
<text class="t" x="242.00" y="114.80" font-size="10.2" text-anchor="middle" textLength="23.8" lengthAdjust="spacingAndGlyphs">λ = 6</text>
<text class="t" x="242.00" y="125.60" font-size="10.2" text-anchor="middle" textLength="71.6" lengthAdjust="spacingAndGlyphs">wt% EtOH=32</text>
<rect x="294.11" y="129.31" width="69.79" height="69.79" filter="url(#q13)" clip-path="url(#k13)"/>
<rect x="294.11" y="129.31" width="69.79" height="69.79" rx="2.2" fill="none" stroke="#333" stroke-opacity="0.6" stroke-width="0.9"/>
<text class="t" x="329.00" y="114.80" font-size="10.2" text-anchor="middle" textLength="23.8" lengthAdjust="spacingAndGlyphs">λ = 6</text>
<text class="t" x="329.00" y="125.60" font-size="10.2" text-anchor="middle" textLength="71.6" lengthAdjust="spacingAndGlyphs">wt% EtOH=95</text>
<rect x="38.68" y="235.78" width="60.04" height="60.04" filter="url(#q20)" clip-path="url(#k20)"/>
<rect x="38.68" y="235.78" width="60.04" height="60.04" rx="2.2" fill="none" stroke="#333" stroke-opacity="0.6" stroke-width="0.9"/>
<text class="t" x="68.70" y="216.00" font-size="10.2" text-anchor="middle" textLength="30.7" lengthAdjust="spacingAndGlyphs">λ = 12</text>
<text class="t" x="68.70" y="226.80" font-size="10.2" text-anchor="middle" textLength="65.3" lengthAdjust="spacingAndGlyphs">wt% EtOH=4</text>
<rect x="124.69" y="234.89" width="61.82" height="61.82" filter="url(#q21)" clip-path="url(#k21)"/>
<rect x="124.69" y="234.89" width="61.82" height="61.82" rx="2.2" fill="none" stroke="#333" stroke-opacity="0.6" stroke-width="0.9"/>
<text class="t" x="155.60" y="216.00" font-size="10.2" text-anchor="middle" textLength="30.7" lengthAdjust="spacingAndGlyphs">λ = 12</text>
<text class="t" x="155.60" y="226.80" font-size="10.2" text-anchor="middle" textLength="71.6" lengthAdjust="spacingAndGlyphs">wt% EtOH=16</text>
<rect x="209.88" y="233.68" width="64.25" height="64.25" filter="url(#q22)" clip-path="url(#k22)"/>
<rect x="209.88" y="233.68" width="64.25" height="64.25" rx="2.2" fill="none" stroke="#333" stroke-opacity="0.6" stroke-width="0.9"/>
<text class="t" x="242.00" y="216.00" font-size="10.2" text-anchor="middle" textLength="30.7" lengthAdjust="spacingAndGlyphs">λ = 12</text>
<text class="t" x="242.00" y="226.80" font-size="10.2" text-anchor="middle" textLength="71.6" lengthAdjust="spacingAndGlyphs">wt% EtOH=32</text>
<rect x="292.85" y="229.65" width="72.30" height="72.30" filter="url(#q23)" clip-path="url(#k23)"/>
<rect x="292.85" y="229.65" width="72.30" height="72.30" rx="2.2" fill="none" stroke="#333" stroke-opacity="0.6" stroke-width="0.9"/>
<text class="t" x="329.00" y="216.00" font-size="10.2" text-anchor="middle" textLength="30.7" lengthAdjust="spacingAndGlyphs">λ = 12</text>
<text class="t" x="329.00" y="226.80" font-size="10.2" text-anchor="middle" textLength="71.6" lengthAdjust="spacingAndGlyphs">wt% EtOH=95</text>
<text x="1.00" y="20.80" font-size="19" font-weight="bold">a</text>
<rect x="102.00" y="345.90" width="154.05" height="139.40" fill="none" stroke="#262626" stroke-width="0.9"/>
<line x1="98.50" y1="485.30" x2="102.00" y2="485.30" stroke="#262626" stroke-width="0.9"/>
<text x="95.10" y="490.80" font-size="15.2" text-anchor="end" textLength="22.90" lengthAdjust="spacingAndGlyphs">0.0</text>
<line x1="98.50" y1="415.60" x2="102.00" y2="415.60" stroke="#262626" stroke-width="0.9"/>
<text x="95.10" y="421.10" font-size="15.2" text-anchor="end" textLength="22.90" lengthAdjust="spacingAndGlyphs">0.5</text>
<line x1="98.50" y1="345.90" x2="102.00" y2="345.90" stroke="#262626" stroke-width="0.9"/>
<text x="95.10" y="351.40" font-size="15.2" text-anchor="end" textLength="22.90" lengthAdjust="spacingAndGlyphs">1.0</text>
<line x1="102.00" y1="485.30" x2="102.00" y2="488.80" stroke="#262626" stroke-width="0.9"/>
<text x="102.00" y="503.40" font-size="15.2" text-anchor="middle" textLength="9.40" lengthAdjust="spacingAndGlyphs">0</text>
<line x1="149.40" y1="485.30" x2="149.40" y2="488.80" stroke="#262626" stroke-width="0.9"/>
<text x="149.40" y="503.40" font-size="15.2" text-anchor="middle" textLength="9.40" lengthAdjust="spacingAndGlyphs">4</text>
<line x1="196.80" y1="485.30" x2="196.80" y2="488.80" stroke="#262626" stroke-width="0.9"/>
<text x="196.80" y="503.40" font-size="15.2" text-anchor="middle" textLength="9.40" lengthAdjust="spacingAndGlyphs">8</text>
<line x1="244.20" y1="485.30" x2="244.20" y2="488.80" stroke="#262626" stroke-width="0.9"/>
<text x="244.20" y="503.40" font-size="15.2" text-anchor="middle" textLength="18.80" lengthAdjust="spacingAndGlyphs">12</text>
<polyline points="113.85,485.30 149.40,482.51 173.10,441.53 196.80,356.36 244.20,348.69" fill="none" stroke="#45206f" stroke-width="4.5" stroke-linejoin="round" stroke-linecap="butt"/>
<circle cx="113.85" cy="485.30" r="5.9" fill="#45206f"/>
<circle cx="149.40" cy="482.51" r="5.9" fill="#45206f"/>
<circle cx="173.10" cy="441.53" r="5.9" fill="#45206f"/>
<circle cx="196.80" cy="356.36" r="5.9" fill="#45206f"/>
<circle cx="244.20" cy="348.69" r="5.9" fill="#45206f"/>
<polyline points="113.85,485.30 149.40,483.21 173.10,459.23 196.80,361.93 244.20,349.38" fill="none" stroke="#b6459f" stroke-width="4.5" stroke-linejoin="round" stroke-linecap="butt"/>
<circle cx="113.85" cy="485.30" r="5.9" fill="#b6459f"/>
<circle cx="149.40" cy="483.21" r="5.9" fill="#b6459f"/>
<circle cx="173.10" cy="459.23" r="5.9" fill="#b6459f"/>
<circle cx="196.80" cy="361.93" r="5.9" fill="#b6459f"/>
<circle cx="244.20" cy="349.38" r="5.9" fill="#b6459f"/>
<polyline points="113.85,485.30 149.40,483.91 173.10,472.75 196.80,366.11 244.20,350.78" fill="none" stroke="#5ea8c9" stroke-width="4.5" stroke-linejoin="round" stroke-linecap="butt"/>
<circle cx="113.85" cy="485.30" r="5.9" fill="#5ea8c9"/>
<circle cx="149.40" cy="483.91" r="5.9" fill="#5ea8c9"/>
<circle cx="173.10" cy="472.75" r="5.9" fill="#5ea8c9"/>
<circle cx="196.80" cy="366.11" r="5.9" fill="#5ea8c9"/>
<circle cx="244.20" cy="350.78" r="5.9" fill="#5ea8c9"/>
<polyline points="113.85,485.30 149.40,483.91 173.10,475.26 196.80,422.15 244.20,354.26" fill="none" stroke="#94b97c" stroke-width="4.5" stroke-linejoin="round" stroke-linecap="butt"/>
<circle cx="113.85" cy="485.30" r="5.9" fill="#94b97c"/>
<circle cx="149.40" cy="483.91" r="5.9" fill="#94b97c"/>
<circle cx="173.10" cy="475.26" r="5.9" fill="#94b97c"/>
<circle cx="196.80" cy="422.15" r="5.9" fill="#94b97c"/>
<circle cx="244.20" cy="354.26" r="5.9" fill="#94b97c"/>
<polyline points="113.85,485.30 149.40,484.60 173.10,481.40 196.80,472.06 244.20,373.78" fill="none" stroke="#c1987a" stroke-width="4.5" stroke-linejoin="round" stroke-linecap="butt"/>
<circle cx="113.85" cy="485.30" r="5.9" fill="#c1987a"/>
<circle cx="149.40" cy="484.60" r="5.9" fill="#c1987a"/>
<circle cx="173.10" cy="481.40" r="5.9" fill="#c1987a"/>
<circle cx="196.80" cy="472.06" r="5.9" fill="#c1987a"/>
<circle cx="244.20" cy="373.78" r="5.9" fill="#c1987a"/>
<polyline points="113.85,485.30 149.40,484.60 173.10,484.32 196.80,478.89 244.20,428.15" fill="none" stroke="#c84b3c" stroke-width="4.5" stroke-linejoin="round" stroke-linecap="butt"/>
<circle cx="113.85" cy="485.30" r="5.9" fill="#c84b3c"/>
<circle cx="149.40" cy="484.60" r="5.9" fill="#c84b3c"/>
<circle cx="173.10" cy="484.32" r="5.9" fill="#c84b3c"/>
<circle cx="196.80" cy="478.89" r="5.9" fill="#c84b3c"/>
<circle cx="244.20" cy="428.15" r="5.9" fill="#c84b3c"/>
<text x="179.6" y="522.5" font-size="14.6" text-anchor="middle" textLength="80.5" lengthAdjust="spacingAndGlyphs">λ (H<tspan font-size="9.8" dy="3">2</tspan><tspan dy="-3">O/N</tspan><tspan font-size="9.8" dy="-5">+</tspan><tspan dy="5">)</tspan></text>
<text transform="translate(45.6,415.5) rotate(-90)" font-size="14.2" text-anchor="middle" textLength="130" lengthAdjust="spacingAndGlyphs">Fraction of H<tspan font-size="9.8" dy="3">2</tspan><tspan dy="-3">O in</tspan></text>
<text transform="translate(63.3,416.2) rotate(-90)" font-size="14.2" text-anchor="middle" textLength="140.5" lengthAdjust="spacingAndGlyphs">largest H<tspan font-size="9.8" dy="3">2</tspan><tspan dy="-3">O cluster</tspan></text>
<rect x="266.7" y="346.9" width="85.3" height="136.2" rx="2.5" fill="#fff" fill-opacity="0.8" stroke="#d9d9d9" stroke-width="0.9"/>
<text x="309.30" y="363.00" font-size="13.2" text-anchor="middle" textLength="73.50" lengthAdjust="spacingAndGlyphs">wt% EtOH</text>
<line x1="281.00" y1="377.60" x2="311.30" y2="377.60" stroke="#45206f" stroke-width="4.4"/>
<circle cx="296.20" cy="377.60" r="5.3" fill="#45206f"/>
<text x="319.60" y="382.60" font-size="13.2" textLength="8.20" lengthAdjust="spacingAndGlyphs">4</text>
<line x1="281.00" y1="396.50" x2="311.30" y2="396.50" stroke="#b6459f" stroke-width="4.4"/>
<circle cx="296.20" cy="396.50" r="5.3" fill="#b6459f"/>
<text x="319.60" y="401.50" font-size="13.2" textLength="8.20" lengthAdjust="spacingAndGlyphs">8</text>
<line x1="281.00" y1="415.60" x2="311.30" y2="415.60" stroke="#5ea8c9" stroke-width="4.4"/>
<circle cx="296.20" cy="415.60" r="5.3" fill="#5ea8c9"/>
<text x="319.60" y="420.60" font-size="13.2" textLength="16.40" lengthAdjust="spacingAndGlyphs">16</text>
<line x1="281.00" y1="434.60" x2="311.30" y2="434.60" stroke="#94b97c" stroke-width="4.4"/>
<circle cx="296.20" cy="434.60" r="5.3" fill="#94b97c"/>
<text x="319.60" y="439.60" font-size="13.2" textLength="16.40" lengthAdjust="spacingAndGlyphs">32</text>
<line x1="281.00" y1="453.60" x2="311.30" y2="453.60" stroke="#c1987a" stroke-width="4.4"/>
<circle cx="296.20" cy="453.60" r="5.3" fill="#c1987a"/>
<text x="319.60" y="458.60" font-size="13.2" textLength="16.40" lengthAdjust="spacingAndGlyphs">64</text>
<line x1="281.00" y1="472.60" x2="311.30" y2="472.60" stroke="#c84b3c" stroke-width="4.4"/>
<circle cx="296.20" cy="472.60" r="5.3" fill="#c84b3c"/>
<text x="319.60" y="477.60" font-size="13.2" textLength="16.40" lengthAdjust="spacingAndGlyphs">95</text>
<text x="1.20" y="325.60" font-size="19" font-weight="bold">c</text>
<defs><clipPath id="clipd"><rect x="468.40" y="317.40" width="207.00" height="193.80"/></clipPath></defs>
<g clip-path="url(#clipd)">
<polyline points="469.44,511.20 488.06,511.20 490.13,509.26 493.24,505.39 495.31,497.63 496.86,487.17 498.00,465.46 498.93,433.68 500.48,402.67 501.52,383.29 502.55,367.79 503.59,357.32 506.38,354.61 507.42,352.28 508.76,348.41 510.73,350.35 512.28,356.16 513.94,367.79 516.11,379.80 518.18,390.66 519.94,399.96 522.84,434.46 526.57,453.06 530.40,467.79 533.61,481.74 536.92,497.25 541.16,506.55 545.51,510.04 549.13,511.20 669.19,511.20" fill="none" stroke="#9d82c4" stroke-width="4.2" stroke-linejoin="round" stroke-linecap="butt" stroke-dasharray="12.6,4.6"/>
<polyline points="469.44,511.20 492.20,511.20 494.27,508.10 495.83,505.77 499.04,487.17 500.69,469.73 502.55,435.23 506.38,421.28 510.83,412.36 513.94,410.42 516.53,408.49 520.15,412.36 523.98,417.40 527.81,422.05 530.40,425.15 532.88,431.35 535.36,440.27 537.95,449.18 540.44,457.71 542.92,467.79 544.06,473.60 546.54,485.62 548.10,488.72 550.89,495.70 554.93,498.41 561.55,503.06 568.38,507.32 570.87,510.42 573.97,511.20 669.19,511.20" fill="none" stroke="#6a1f8e" stroke-width="5.0" stroke-linejoin="round" stroke-linecap="butt"/>
<polyline points="469.44,511.20 491.17,511.20 494.27,507.32 496.86,495.70 498.93,480.19 500.48,469.73 502.55,437.56 506.38,414.30 509.49,398.80 510.83,391.04 512.90,387.17 514.98,383.29 516.63,387.17 518.80,391.04 520.15,394.92 523.36,401.51 527.81,422.83 531.74,444.53 535.26,458.10 538.88,471.66 542.51,483.29 546.02,493.76 549.75,499.96 554.30,505.39 557.41,508.10 563.62,511.20 669.19,511.20" fill="none" stroke="#7dbed6" stroke-width="4.2" stroke-linejoin="round" stroke-linecap="butt" stroke-dasharray="12.6,4.6"/>
<polyline points="469.44,511.20 492.20,511.20 495.83,506.55 499.04,487.17 501.21,465.46 503.59,449.18 506.38,437.56 511.46,425.15 514.56,423.21 520.15,423.60 525.32,428.64 530.40,435.23 535.36,441.43 540.44,450.35 542.71,453.45 545.51,460.42 549.54,473.60 556.17,488.33 563.00,496.47 569.73,503.06 575.11,508.49 582.25,511.20 669.19,511.20" fill="none" stroke="#27217f" stroke-width="5.0" stroke-linejoin="round" stroke-linecap="butt"/>
<polyline points="469.44,511.20 494.27,511.20 498.00,506.55 501.21,492.60 504.42,476.32 507.63,463.53 508.87,458.87 511.97,453.06 515.18,446.47 519.12,440.66 521.50,438.72 525.32,442.59 529.05,440.27 535.36,442.59 540.02,445.31 541.68,446.47 545.51,450.35 548.10,453.45 549.23,453.84 553.48,457.32 557.62,466.63 561.55,479.03 567.04,491.04 573.76,499.18 580.49,504.61 588.67,507.32 597.77,509.26 602.95,511.20 669.19,511.20" fill="none" stroke="#a0b49e" stroke-width="4.2" stroke-linejoin="round" stroke-linecap="butt" stroke-dasharray="12.6,4.6"/>
<polyline points="469.44,511.20 494.27,511.20 498.00,506.55 501.21,492.60 504.42,476.32 507.63,463.53 508.87,458.87 511.97,453.06 515.18,446.47 519.12,440.66 521.50,438.72 525.32,442.59 529.05,440.27 535.36,442.59 540.02,445.31 541.68,446.47 545.51,450.35 548.10,453.45 549.23,453.84 553.48,457.32 557.62,466.63 561.55,479.03 567.04,491.04 573.76,499.18 580.49,504.61 588.67,507.32 597.77,509.26 602.95,511.20 669.19,511.20" fill="none" stroke="#357a35" stroke-width="5.0" stroke-linejoin="round" stroke-linecap="butt"/>
<polyline points="469.44,511.20 495.31,511.20 498.41,507.32 501.52,499.57 505.45,490.27 511.97,482.91 517.36,478.64 522.84,474.77 530.40,470.89 535.78,468.56 540.85,466.63 546.02,463.53 549.65,460.81 554.30,458.87 557.62,457.71 563.00,459.26 569.73,463.91 580.49,473.60 588.67,484.46 596.74,491.04 604.92,496.47 608.85,501.51 615.16,505.39 623.44,507.71 629.86,509.26 637.11,510.42 643.83,511.20 669.19,511.20" fill="none" stroke="#cc6a8c" stroke-width="4.2" stroke-linejoin="round" stroke-linecap="butt" stroke-dasharray="12.6,4.6"/>
<polyline points="469.44,511.20 499.45,511.20 501.21,505.39 503.38,499.18 506.59,494.92 509.80,490.27 513.63,490.27 517.36,486.01 523.88,481.74 530.40,477.87 535.78,475.15 541.16,470.89 546.75,466.63 553.48,463.91 560.31,464.69 567.04,466.63 573.14,461.97 575.83,472.05 580.49,469.34 585.98,476.32 591.36,480.19 596.74,484.46 603.47,485.62 606.99,487.17 611.75,493.76 617.54,499.57 620.96,498.80 624.48,503.06 628.00,501.90 632.65,504.61 638.45,505.77 643.21,509.26 645.38,511.20 668.88,511.20" fill="none" stroke="#8c1b11" stroke-width="5.0" stroke-linejoin="round" stroke-linecap="butt"/>
</g>
<rect x="468.40" y="317.40" width="207.00" height="193.80" fill="none" stroke="#262626" stroke-width="0.9"/>
<line x1="464.90" y1="511.20" x2="468.40" y2="511.20" stroke="#262626" stroke-width="0.9"/>
<text x="461.60" y="516.65" font-size="15.2" text-anchor="end" textLength="22.30" lengthAdjust="spacingAndGlyphs">0.0</text>
<line x1="464.90" y1="472.44" x2="468.40" y2="472.44" stroke="#262626" stroke-width="0.9"/>
<text x="461.60" y="477.89" font-size="15.2" text-anchor="end" textLength="22.30" lengthAdjust="spacingAndGlyphs">0.1</text>
<line x1="464.90" y1="433.68" x2="468.40" y2="433.68" stroke="#262626" stroke-width="0.9"/>
<text x="461.60" y="439.13" font-size="15.2" text-anchor="end" textLength="22.30" lengthAdjust="spacingAndGlyphs">0.2</text>
<line x1="464.90" y1="394.92" x2="468.40" y2="394.92" stroke="#262626" stroke-width="0.9"/>
<text x="461.60" y="400.37" font-size="15.2" text-anchor="end" textLength="22.30" lengthAdjust="spacingAndGlyphs">0.3</text>
<line x1="464.90" y1="356.16" x2="468.40" y2="356.16" stroke="#262626" stroke-width="0.9"/>
<text x="461.60" y="361.61" font-size="15.2" text-anchor="end" textLength="22.30" lengthAdjust="spacingAndGlyphs">0.4</text>
<line x1="464.90" y1="317.40" x2="468.40" y2="317.40" stroke="#262626" stroke-width="0.9"/>
<text x="461.60" y="322.85" font-size="15.2" text-anchor="end" textLength="22.30" lengthAdjust="spacingAndGlyphs">0.5</text>
<line x1="468.40" y1="511.20" x2="468.40" y2="514.70" stroke="#262626" stroke-width="0.9"/>
<text x="468.40" y="529.70" font-size="15.2" text-anchor="middle" textLength="8.90" lengthAdjust="spacingAndGlyphs">0</text>
<line x1="520.15" y1="511.20" x2="520.15" y2="514.70" stroke="#262626" stroke-width="0.9"/>
<text x="520.15" y="529.70" font-size="15.2" text-anchor="middle" textLength="8.90" lengthAdjust="spacingAndGlyphs">5</text>
<line x1="571.90" y1="511.20" x2="571.90" y2="514.70" stroke="#262626" stroke-width="0.9"/>
<text x="571.90" y="529.70" font-size="15.2" text-anchor="middle" textLength="17.80" lengthAdjust="spacingAndGlyphs">10</text>
<line x1="623.65" y1="511.20" x2="623.65" y2="514.70" stroke="#262626" stroke-width="0.9"/>
<text x="623.65" y="529.70" font-size="15.2" text-anchor="middle" textLength="17.80" lengthAdjust="spacingAndGlyphs">15</text>
<line x1="675.40" y1="511.20" x2="675.40" y2="514.70" stroke="#262626" stroke-width="0.9"/>
<text x="675.40" y="529.70" font-size="15.2" text-anchor="middle" textLength="17.80" lengthAdjust="spacingAndGlyphs">20</text>
<text x="572.60" y="551.40" font-size="15.4" text-anchor="middle" textLength="169.00" lengthAdjust="spacingAndGlyphs">Pore channel width (Å)</text>
<text transform="translate(431.3,415.4) rotate(-90)" font-size="15.4" text-anchor="middle" textLength="169.5" lengthAdjust="spacingAndGlyphs">Fraction of all channels</text>
<rect x="555.8" y="322.9" width="115" height="116.9" rx="2.5" fill="#fff" fill-opacity="0.8" stroke="#d9d9d9" stroke-width="0.9"/>
<line x1="559.70" y1="331.20" x2="571.90" y2="331.20" stroke="#9d82c4" stroke-width="3.8"/>
<line x1="575.00" y1="331.20" x2="577.70" y2="331.20" stroke="#9d82c4" stroke-width="3.8"/>
<text class="t" x="581.10" y="334.90" font-size="10.2" textLength="79.50" lengthAdjust="spacingAndGlyphs">4 wt% EtOH, λ=4</text>
<line x1="559.70" y1="345.56" x2="577.70" y2="345.56" stroke="#6a1f8e" stroke-width="4.7"/>
<text class="t" x="581.10" y="349.26" font-size="10.2" textLength="79.50" lengthAdjust="spacingAndGlyphs">4 wt% EtOH, λ=8</text>
<line x1="559.70" y1="359.92" x2="571.90" y2="359.92" stroke="#7dbed6" stroke-width="3.8"/>
<line x1="575.00" y1="359.92" x2="577.70" y2="359.92" stroke="#7dbed6" stroke-width="3.8"/>
<text class="t" x="581.10" y="363.62" font-size="10.2" textLength="85.80" lengthAdjust="spacingAndGlyphs">16 wt% EtOH, λ=4</text>
<line x1="559.70" y1="374.28" x2="577.70" y2="374.28" stroke="#27217f" stroke-width="4.7"/>
<text class="t" x="581.10" y="377.98" font-size="10.2" textLength="85.80" lengthAdjust="spacingAndGlyphs">16 wt% EtOH, λ=8</text>
<line x1="559.70" y1="388.64" x2="571.90" y2="388.64" stroke="#a0b49e" stroke-width="3.8"/>
<line x1="575.00" y1="388.64" x2="577.70" y2="388.64" stroke="#a0b49e" stroke-width="3.8"/>
<text class="t" x="581.10" y="392.34" font-size="10.2" textLength="85.80" lengthAdjust="spacingAndGlyphs">32 wt% EtOH, λ=4</text>
<line x1="559.70" y1="403.00" x2="577.70" y2="403.00" stroke="#357a35" stroke-width="4.7"/>
<text class="t" x="581.10" y="406.70" font-size="10.2" textLength="85.80" lengthAdjust="spacingAndGlyphs">32 wt% EtOH, λ=8</text>
<line x1="559.70" y1="417.36" x2="571.90" y2="417.36" stroke="#cc6a8c" stroke-width="3.8"/>
<line x1="575.00" y1="417.36" x2="577.70" y2="417.36" stroke="#cc6a8c" stroke-width="3.8"/>
<text class="t" x="581.10" y="421.06" font-size="10.2" textLength="85.80" lengthAdjust="spacingAndGlyphs">95 wt% EtOH, λ=4</text>
<line x1="559.70" y1="431.72" x2="577.70" y2="431.72" stroke="#8c1b11" stroke-width="4.7"/>
<text class="t" x="581.10" y="435.42" font-size="10.2" textLength="85.80" lengthAdjust="spacingAndGlyphs">95 wt% EtOH, λ=8</text>
<text x="384.70" y="325.20" font-size="19" font-weight="bold">d</text>
</svg></body></html>
